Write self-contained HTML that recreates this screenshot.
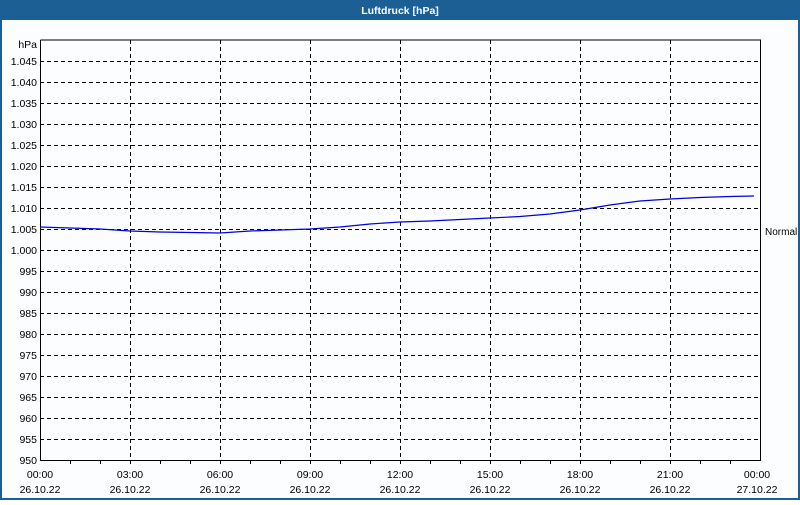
<!DOCTYPE html><html><head><style>body{margin:0;width:800px;height:500px;overflow:hidden;background:#fff}</style></head><body>
<svg width="800" height="500" xmlns="http://www.w3.org/2000/svg" font-family="Liberation Sans, sans-serif" font-size="10.5">
<rect x="0" y="0" width="800" height="500" fill="#1c5f95"/>
<rect x="2" y="20" width="796" height="478" fill="#fcfdff"/>
<text x="400" y="14" fill="#fff" font-weight="bold" text-anchor="middle">Luftdruck [hPa]</text>
<g stroke="#000" stroke-dasharray="4,3" stroke-width="1">
<line x1="40" x2="760" y1="61.5" y2="61.5"/><line x1="40" x2="760" y1="82.5" y2="82.5"/><line x1="40" x2="760" y1="103.5" y2="103.5"/><line x1="40" x2="760" y1="124.5" y2="124.5"/><line x1="40" x2="760" y1="145.5" y2="145.5"/><line x1="40" x2="760" y1="166.5" y2="166.5"/><line x1="40" x2="760" y1="187.5" y2="187.5"/><line x1="40" x2="760" y1="208.5" y2="208.5"/><line x1="40" x2="760" y1="229.5" y2="229.5"/><line x1="40" x2="760" y1="250.5" y2="250.5"/><line x1="40" x2="760" y1="271.5" y2="271.5"/><line x1="40" x2="760" y1="292.5" y2="292.5"/><line x1="40" x2="760" y1="313.5" y2="313.5"/><line x1="40" x2="760" y1="334.5" y2="334.5"/><line x1="40" x2="760" y1="355.5" y2="355.5"/><line x1="40" x2="760" y1="376.5" y2="376.5"/><line x1="40" x2="760" y1="397.5" y2="397.5"/><line x1="40" x2="760" y1="418.5" y2="418.5"/><line x1="40" x2="760" y1="439.5" y2="439.5"/>
<line x1="130.5" x2="130.5" y1="40" y2="460"/><line x1="220.5" x2="220.5" y1="40" y2="460"/><line x1="310.5" x2="310.5" y1="40" y2="460"/><line x1="400.5" x2="400.5" y1="40" y2="460"/><line x1="490.5" x2="490.5" y1="40" y2="460"/><line x1="580.5" x2="580.5" y1="40" y2="460"/><line x1="670.5" x2="670.5" y1="40" y2="460"/>
</g>
<g stroke="#000" stroke-width="1" fill="none">
<path d="M40.5 40V460.5H760.5V40H40.5"/>
<path d="M70.5 460v4M100.5 460v4M130.5 460v4M160.5 460v4M190.5 460v4M220.5 460v4M250.5 460v4M280.5 460v4M310.5 460v4M340.5 460v4M370.5 460v4M400.5 460v4M430.5 460v4M460.5 460v4M490.5 460v4M520.5 460v4M550.5 460v4M580.5 460v4M610.5 460v4M640.5 460v4M670.5 460v4M700.5 460v4M730.5 460v4M760.5 230v4"/>
</g>
<polyline fill="none" stroke="#0000e0" stroke-width="1.2" points="40,227 70,228 100,229 130,231 160,232 190,232.5 220,233 250,231 280,230 310,229 340,227 370,224 400,222 430,221 460,219.5 490,218 520,216.5 550,214 580,210 610,205 640,201 670,199 700,197.5 730,196.5 754,196"/>
<g fill="#000" text-anchor="end">
<text x="37" y="48">hPa</text>
<text x="37" y="65">1.045</text><text x="37" y="86">1.040</text><text x="37" y="107">1.035</text><text x="37" y="128">1.030</text><text x="37" y="149">1.025</text><text x="37" y="170">1.020</text><text x="37" y="191">1.015</text><text x="37" y="212">1.010</text><text x="37" y="233">1.005</text><text x="37" y="254">1.000</text><text x="37" y="275">995</text><text x="37" y="296">990</text><text x="37" y="317">985</text><text x="37" y="338">980</text><text x="37" y="359">975</text><text x="37" y="380">970</text><text x="37" y="401">965</text><text x="37" y="422">960</text><text x="37" y="443">955</text><text x="37" y="464">950</text>
</g>
<text x="765" y="235" fill="#000" font-size="10">Normal</text>
<g fill="#000" text-anchor="middle">
<text x="40" y="478">00:00</text><text x="130" y="478">03:00</text><text x="220" y="478">06:00</text><text x="310" y="478">09:00</text><text x="400" y="478">12:00</text><text x="490" y="478">15:00</text><text x="580" y="478">18:00</text><text x="670" y="478">21:00</text><text x="757" y="478">00:00</text>
<text x="40" y="493">26.10.22</text><text x="130" y="493">26.10.22</text><text x="220" y="493">26.10.22</text><text x="310" y="493">26.10.22</text><text x="400" y="493">26.10.22</text><text x="490" y="493">26.10.22</text><text x="580" y="493">26.10.22</text><text x="670" y="493">26.10.22</text><text x="757" y="493">27.10.22</text>
</g>
</svg></body></html>
